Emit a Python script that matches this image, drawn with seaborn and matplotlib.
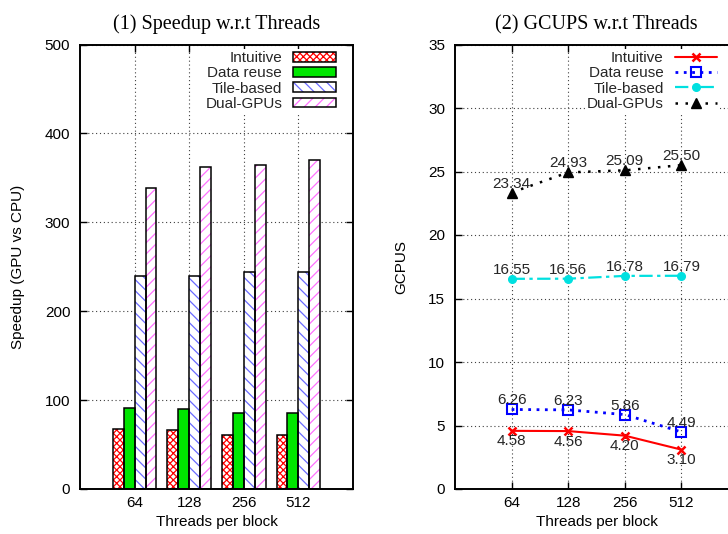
import numpy as np
import pandas as pd
import matplotlib
matplotlib.use("Agg")
import matplotlib.pyplot as plt
from matplotlib.patches import Rectangle, Patch
from matplotlib.lines import Line2D
import seaborn as sns

# ---------------- data ----------------
threads = ["64", "128", "256", "512"]
methods = ["Intuitive", "Data reuse", "Tile-based", "Dual-GPUs"]

speedup_intuitive = [67, 66, 61, 61]
speedup_datareuse = [91, 90, 85, 85]
speedup_tile = [240, 240, 244, 244]
speedup_dual = [339, 362, 364, 370]

gcups_intuitive = [4.58, 4.56, 4.20, 3.10]
gcups_datareuse = [6.26, 6.23, 5.86, 4.49]
gcups_tile = [16.55, 16.56, 16.78, 16.79]
gcups_dual = [23.34, 24.93, 25.09, 25.50]

# ---------------- style ----------------
sns.set_theme(style="white")
plt.rcParams["font.family"] = ["Liberation Sans", "DejaVu Sans"]
plt.rcParams["hatch.linewidth"] = 0.9
FS = 11

fig = plt.figure(figsize=(7.28, 5.34), dpi=100)
W, H = 728, 534
axL = fig.add_axes([80 / W, (H - 489) / H, 273 / W, 444.5 / H])
axR = fig.add_axes([455 / W, (H - 489) / H, 283 / W, 444.5 / H])

grid_kw = dict(color="0.25", linestyle=(0, (1, 2.5)), linewidth=0.8)

# ---------------- left: bars ----------------
df_bar = pd.DataFrame({
    "threads": threads * 4,
    "method": [m for m in methods for _ in threads],
    "speedup": speedup_intuitive + speedup_datareuse + speedup_tile + speedup_dual,
})
bar_styles = {
    "Intuitive": dict(face="white", hatch="xxxxx", hcol="#ff0000"),
    "Data reuse": dict(face="#00e600", hatch=None, hcol="#00e600"),
    "Tile-based": dict(face="white", hatch="\\\\\\", hcol="#6a6aff"),
    "Dual-GPUs": dict(face="white", hatch="///", hcol="#ff70ff"),
}
sns.barplot(data=df_bar, x="threads", y="speedup", hue="method",
            order=threads, hue_order=methods, width=0.8, gap=0,
            palette=[bar_styles[m]["hcol"] for m in methods],
            saturation=1, legend=False, ax=axL, zorder=2)

for cont, m in zip(axL.containers, methods):
    st = bar_styles[m]
    for p in cont.patches:
        p.set_facecolor(st["face"])
        p.set_edgecolor(st["hcol"])
        p.set_linewidth(0)
        if st["hatch"]:
            p.set_hatch(st["hatch"])
        axL.add_patch(Rectangle(p.get_xy(), p.get_width(), p.get_height(),
                                fill=False, edgecolor="black", linewidth=1.1, zorder=3))

axL.set_xlim(-1, 4)
axL.set_ylim(0, 500)
axL.set_yticks(np.arange(0, 501, 100))
axL.set_xticks(range(len(threads)))
axL.set_xticklabels(threads)
axL.set_axisbelow(True)
axL.grid(True, **grid_kw)
axL.set_xlabel("Threads per block", fontsize=FS)
axL.set_ylabel("Speedup (GPU vs CPU)", fontsize=FS)
axL.yaxis.set_label_coords(-55 / 273, 0.5)
axL.xaxis.set_label_coords(0.5, -26 / 444.5)
axL.set_title("(1) Speedup w.r.t Threads", family=["Liberation Serif"], fontsize=14.5, pad=11)

leg_handles = []
for m in methods:
    st = bar_styles[m]
    h1 = Patch(facecolor=st["face"], edgecolor=st["hcol"], hatch=st["hatch"], linewidth=0)
    h2 = Patch(fill=False, edgecolor="black", linewidth=1.1)
    leg_handles.append((h1, h2))
legL = axL.legend(leg_handles, methods, loc="upper right", bbox_to_anchor=(0.945, 0.99),
                  markerfirst=False, frameon=True, facecolor="white", edgecolor="none",
                  framealpha=1, fontsize=FS, handlelength=2.8, handleheight=0.6,
                  handletextpad=0.7, labelspacing=0.08, borderpad=0.15, borderaxespad=0)

# ---------------- right: lines ----------------
pos = np.arange(len(threads))
line_styles = {
    "Intuitive": dict(color="#ff0000", ls="-", lw=1.5, marker="x", ms=6, mfc="#ff0000", mew=1.8),
    "Data reuse": dict(color="#0000ff", ls=(0, (1, 2)), lw=2.0, marker="s", ms=6.5, mfc="none", mew=1.5),
    "Tile-based": dict(color="#00e0e0", ls=(0, (6, 2, 1.5, 2)), lw=1.6, marker="o", ms=5.5, mfc="#00e0e0", mew=1),
    "Dual-GPUs": dict(color="black", ls=(0, (1, 3)), lw=1.8, marker="^", ms=6.5, mfc="black", mew=1),
}
series = {
    "Intuitive": gcups_intuitive,
    "Data reuse": gcups_datareuse,
    "Tile-based": gcups_tile,
    "Dual-GPUs": gcups_dual,
}
for m in methods:
    st = line_styles[m]
    sns.lineplot(x=pos, y=series[m], ax=axR, color=st["color"], linestyle=st["ls"],
                 linewidth=st["lw"], marker=st["marker"], markersize=st["ms"],
                 markerfacecolor=st["mfc"], markeredgecolor=st["color"],
                 markeredgewidth=st["mew"], sort=False, legend=False, zorder=3)
    below = (m == "Intuitive")
    for x, v in zip(pos, series[m]):
        axR.annotate(f"{v:.2f}", (x, v), xytext=(0, -7.5 if below else 6.5),
                     textcoords="offset points", ha="center", va="center",
                     fontsize=FS, zorder=4)

axR.set_xlim(-1, 4)
axR.set_ylim(0, 35)
axR.set_yticks(np.arange(0, 36, 5))
axR.set_xticks(pos)
axR.set_xticklabels(threads)
axR.set_axisbelow(True)
axR.grid(True, **grid_kw)
axR.set_xlabel("Threads per block", fontsize=FS)
axR.set_ylabel("GCPUS", fontsize=FS)
axR.yaxis.set_label_coords(-47 / 283, 0.5)
axR.xaxis.set_label_coords(0.5, -26 / 444.5)
axR.set_title("(2) GCUPS w.r.t Threads", family=["Liberation Serif"], fontsize=14.5, pad=11)

lh = []
for m in methods:
    st = line_styles[m]
    lh.append(Line2D([], [], color=st["color"], linestyle=st["ls"], linewidth=st["lw"],
                     marker=st["marker"], markersize=st["ms"], markerfacecolor=st["mfc"],
                     markeredgecolor=st["color"], markeredgewidth=st["mew"]))
legR = axR.legend(lh, methods, loc="upper right", bbox_to_anchor=(0.935, 0.99),
                  markerfirst=False, frameon=True, facecolor="white", edgecolor="none",
                  framealpha=1, fontsize=FS, handlelength=2.8, numpoints=1,
                  handletextpad=0.7, labelspacing=0.08, borderpad=0.15, borderaxespad=0)
legR.set_zorder(5)

for ax in (axL, axR):
    for s in ax.spines.values():
        s.set_linewidth(1.4)
        s.set_color("black")
    ax.tick_params(axis="both", direction="in", length=5, width=1, labelsize=FS,
                   pad=7, colors="black", left=True, bottom=True, right=True, top=True)
    ax.tick_params(axis="x", pad=5)
    ax.title.set_color("black")
    ax.xaxis.label.set_color("black")
    ax.yaxis.label.set_color("black")

fig.savefig("out.png", dpi=100)
